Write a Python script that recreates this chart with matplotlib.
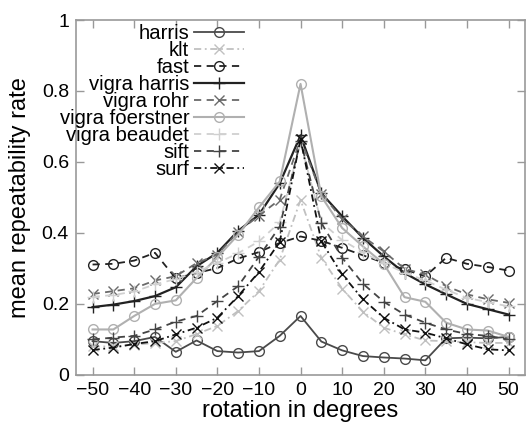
import matplotlib
matplotlib.use("Agg")
import matplotlib.pyplot as plt
import numpy as np

plt.rcParams['font.family'] = ['Liberation Sans', 'DejaVu Sans']

angles = [-50, -45, -40, -35, -30, -25, -20, -15, -10, -5, 0, 5, 10, 15, 20, 25, 30, 35, 40, 45, 50]

harris = [0.095, 0.09, 0.095, 0.107, 0.065, 0.097, 0.067, 0.063, 0.067, 0.11, 0.166,
          0.094, 0.069, 0.053, 0.049, 0.046, 0.041, 0.103, 0.105, 0.103, 0.107]
klt = [0.08, 0.08, 0.085, 0.09, 0.095, 0.115, 0.138, 0.18, 0.236, 0.325, 0.493,
       0.33, 0.243, 0.178, 0.133, 0.114, 0.097, 0.095, 0.092, 0.09, 0.09]
fast = [0.311, 0.313, 0.322, 0.344, 0.272, 0.287, 0.301, 0.328, 0.346, 0.372, 0.39,
        0.378, 0.358, 0.337, 0.316, 0.297, 0.278, 0.33, 0.313, 0.304, 0.294]
vigra_harris = [0.191, 0.198, 0.208, 0.222, 0.247, 0.306, 0.344, 0.406, 0.451, 0.54, 0.675,
                0.512, 0.447, 0.386, 0.334, 0.287, 0.255, 0.227, 0.2, 0.185, 0.17]
vigra_rohr = [0.228, 0.236, 0.244, 0.266, 0.278, 0.315, 0.339, 0.403, 0.449, 0.494, 0.665,
              0.51, 0.44, 0.39, 0.348, 0.299, 0.283, 0.25, 0.227, 0.213, 0.203]
vigra_foerstner = [0.128, 0.128, 0.166, 0.2, 0.21, 0.273, 0.331, 0.395, 0.472, 0.545, 0.82,
                   0.503, 0.414, 0.362, 0.313, 0.219, 0.206, 0.147, 0.128, 0.125, 0.107]
vigra_beaudet = [0.22, 0.225, 0.235, 0.255, 0.27, 0.29, 0.315, 0.343, 0.376, 0.43, 0.655,
                 0.43, 0.38, 0.345, 0.315, 0.288, 0.266, 0.24, 0.217, 0.205, 0.193]
sift = [0.10, 0.105, 0.11, 0.128, 0.15, 0.166, 0.208, 0.25, 0.333, 0.418, 0.66,
        0.428, 0.33, 0.257, 0.206, 0.17, 0.147, 0.128, 0.115, 0.11, 0.10]
surf = [0.07, 0.077, 0.087, 0.095, 0.114, 0.133, 0.161, 0.222, 0.29, 0.375, 0.665,
        0.376, 0.283, 0.213, 0.161, 0.128, 0.119, 0.103, 0.086, 0.072, 0.069]

labels = ['harris', 'klt', 'fast', 'vigra harris', 'vigra rohr', 'vigra foerstner',
          'vigra beaudet', 'sift', 'surf']
series = [harris, klt, fast, vigra_harris, vigra_rohr, vigra_foerstner, vigra_beaudet, sift, surf]

styles = [
    dict(color='#4a4a4a', ls='-', marker='o', mfc='none', ms=7, lw=1.3),
    dict(color='#c0c0c0', ls=(0, (4, 2, 1, 2)), marker='x', ms=7, lw=1.3),
    dict(color='#222222', ls=(0, (4, 3)), marker='o', mfc='none', ms=7, lw=1.3),
    dict(color='#222222', ls='-', marker='+', ms=9, lw=1.6),
    dict(color='#6a6a6a', ls=(0, (4, 3)), marker='x', ms=7, lw=1.3),
    dict(color='#b0b0b0', ls='-', marker='o', mfc='none', ms=7, lw=1.5),
    dict(color='#d0d0d0', ls=(0, (4, 3)), marker='+', ms=9, lw=1.3),
    dict(color='#444444', ls=(0, (4, 3)), marker='+', ms=9, lw=1.3),
    dict(color='#111111', ls=(0, (4, 2, 1, 2)), marker='x', ms=7, lw=1.3),
]

fig = plt.figure(figsize=(5.31, 4.26), dpi=100)
ax = fig.add_axes([0.143, 0.12, 0.846, 0.833])

for lab, vals, st in zip(labels, series, styles):
    ax.plot(angles, vals, label=lab, **st)

ax.set_xlim(-54, 54)
ax.set_ylim(0, 1)
ax.set_xticks(np.arange(-50, 51, 10))
ax.set_yticks([0, 0.2, 0.4, 0.6, 0.8, 1.0])
ax.set_yticklabels(['0', '0.2', '0.4', '0.6', '0.8', '1'])
ax.tick_params(direction='in', length=6, top=True, right=True, labelsize=14,
               color='#999999', width=1, pad=5)
for sp in ax.spines.values():
    sp.set_color('#999999')
    sp.set_linewidth(1.2)
ax.set_xlabel('rotation in degrees', fontsize=17, labelpad=1)
ax.set_ylabel('mean repeatability rate', fontsize=17, labelpad=8)

leg = ax.legend(loc='upper right', bbox_to_anchor=(0.392, 1.012), frameon=False,
                markerfirst=False, fontsize=14.6, handlelength=2.45, labelspacing=-0.1,
                handletextpad=0.25, borderaxespad=0.0)

fig.savefig('out.png', dpi=100)
